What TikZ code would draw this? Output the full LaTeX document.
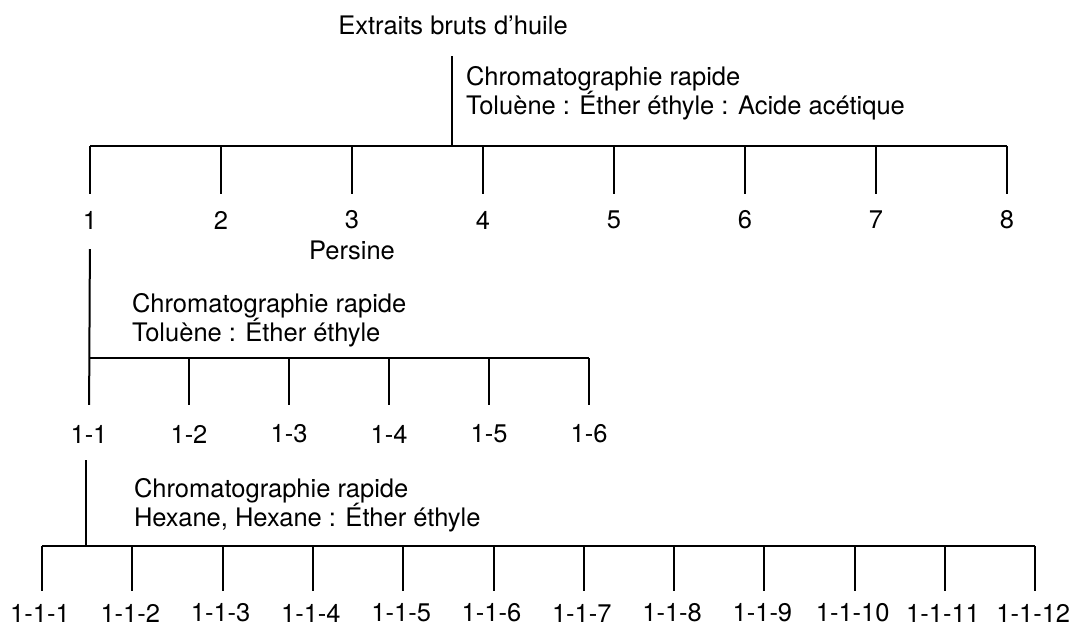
\documentclass[tikz,border=0pt]{standalone}
\usepackage{fontspec}
\setmainfont{TeX Gyre Heros}
\begin{document}
\begin{tikzpicture}[x=1pt,y=-1pt,line width=2pt,
  lbl/.style={inner sep=0pt,font=\fontsize{25.5}{29}\selectfont},
  txt/.style={inner sep=0pt,anchor=west,align=left,font=\fontsize{25.5}{29}\selectfont}]
\useasboundingbox (0,0) rectangle (1075,631);
% source
\node[lbl] (src) at (453,25) {Extraits bruts d’huile};
\coordinate (b0) at (452,146);
\draw (src.south -| b0) ++(0,21) -- (b0);
\node[txt] (c1) at (465,93) {Chromatographie rapide\\Toluène : Éther éthyle : Acide acétique};
% level 1
\foreach \i in {1,...,8}
  \node[lbl] (L\i) at ({90+131*(\i-1)},220) {\i};
\draw (L1.north |- b0) -- (L8.north |- b0);
\foreach \i in {1,...,8}
  \draw[shorten >=16pt] (L\i.north |- b0) -- (L\i.north);
\node[lbl] (pers) at (352,250) {Persine};
% level 2
\node[txt] (c2) at (131,320) {Chromatographie rapide\\Toluène : Éther éthyle};
\foreach \i in {1,...,6}
  \node[lbl] (M\i) at ({89+100*(\i-1)},434) {1-\i};
\coordinate (b1) at (89,358);
\draw[shorten <=19pt,shorten >=19pt] (L1.south) -- (M1.north);
\draw (M1.north |- b1) -- (M6.north |- b1);
\foreach \i in {2,...,6}
  \draw[shorten >=19pt] (M\i.north |- b1) -- (M\i.north);
% level 3
\node[txt] (c3) at (133,505) {Chromatographie rapide\\Hexane, Hexane : Éther éthyle};
\foreach \i in {1,...,12}
  \node[lbl] (N\i) at ({40+90.3*(\i-1)},613) {1-1-\i};
\coordinate (b2) at (86,546);
\draw (M1.south) ++(-3,16) -- (b2);
\draw ([xshift=2pt]N1.north |- b2) -- ([xshift=2pt]N12.north |- b2);
\foreach \i in {1,...,12}
  \draw[shorten >=12pt] ([xshift=2pt]N\i.north |- b2) -- ([xshift=2pt]N\i.north);
\end{tikzpicture}
\end{document}
